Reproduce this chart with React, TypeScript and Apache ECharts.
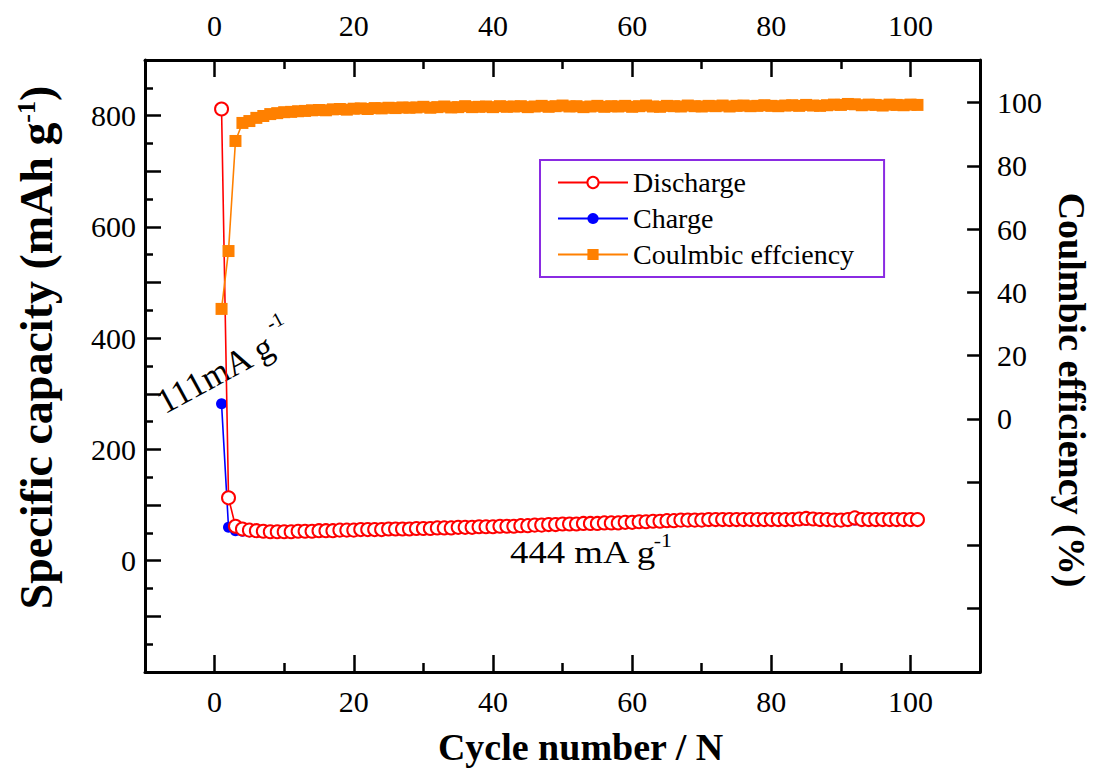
import React, { useEffect, useRef } from 'react';
import * as echarts from 'echarts';

const cycles = [
  1, 2, 3, 4, 5, 6, 7, 8, 9, 10, 11, 12, 13, 14, 15, 16, 17, 18, 19, 20,
  21, 22, 23, 24, 25, 26, 27, 28, 29, 30, 31, 32, 33, 34, 35, 36, 37, 38, 39, 40,
  41, 42, 43, 44, 45, 46, 47, 48, 49, 50, 51, 52, 53, 54, 55, 56, 57, 58, 59, 60,
  61, 62, 63, 64, 65, 66, 67, 68, 69, 70, 71, 72, 73, 74, 75, 76, 77, 78, 79, 80,
  81, 82, 83, 84, 85, 86, 87, 88, 89, 90, 91, 92, 93, 94, 95, 96, 97, 98, 99, 100, 101,
];

const discharge = [
  812, 113, 62, 57, 55, 54, 53, 52, 52, 52, 52, 53, 53, 53, 54, 54, 54, 55, 55, 55,
  56, 56, 56, 56, 57, 57, 57, 57, 58, 58, 58, 59, 59, 59, 60, 60, 60, 61, 61, 61,
  62, 62, 62, 63, 63, 64, 64, 65, 65, 66, 66, 66, 67, 67, 67, 68, 68, 68, 69, 69,
  70, 70, 71, 71, 72, 72, 73, 73, 73, 73, 74, 74, 74, 74, 74, 74, 74, 74, 74, 74,
  74, 74, 74, 75, 76, 75, 74, 74, 73, 73, 74, 77, 74, 74, 74, 74, 74, 74, 74, 74, 74,
];

const charge = [
  282, 60, 54, 53, 52, 51, 51, 50, 50, 50, 50, 51, 51, 51, 52, 52, 52, 53, 53, 53,
  54, 54, 54, 55, 55, 55, 56, 56, 56, 56, 57, 57, 58, 58, 58, 59, 59, 59, 60, 60,
  60, 61, 61, 61, 62, 62, 63, 63, 64, 64, 65, 65, 65, 66, 66, 66, 67, 67, 68, 68,
  68, 69, 69, 70, 70, 71, 71, 72, 72, 72, 72, 73, 73, 73, 73, 73, 73, 73, 73, 73,
  73, 73, 73, 73, 73, 73, 73, 73, 72, 72, 72, 73, 73, 73, 73, 73, 73, 73, 73, 73, 73,
];

const efficiency = [
  34.8, 53.1, 87.9, 93.6, 94.2, 95.2, 95.8, 96.4, 96.7, 97.0, 97.1, 97.3, 97.4, 97.6, 97.7, 97.6, 97.9, 98.0, 97.8, 98.1,
  98.2, 98.0, 98.3, 98.2, 98.4, 98.3, 98.5, 98.4, 98.5, 98.7, 98.4, 98.6, 98.8, 98.5, 98.6, 98.9, 98.6, 98.7, 98.8, 98.6,
  98.9, 98.7, 98.8, 98.9, 98.6, 98.8, 99.0, 98.7, 98.9, 99.1, 98.8, 98.9, 98.6, 98.8, 99.0, 98.7, 98.9, 98.8, 99.0, 98.7,
  98.9, 99.1, 98.8, 98.7, 99.0, 98.9, 98.8, 99.1, 98.9, 98.8, 99.0, 98.9, 99.1, 98.8, 99.0, 99.1, 98.9, 99.0, 99.2, 99.0,
  98.9, 99.1, 99.2, 99.0, 99.3, 99.1, 99.0, 99.2, 99.4, 99.3, 99.6, 99.5, 99.2, 99.4, 99.3, 99.1, 99.4, 99.3, 99.2, 99.4, 99.3,
];

const xTickValues = [0, 20, 40, 60, 80, 100];
const xMinorTickValues = [10, 30, 50, 70, 90];
const leftLabelValues = [0, 200, 400, 600, 800];
const rightLabelValues = [0, 20, 40, 60, 80, 100];

const FONT = 'Liberation Serif';

export default function App() {
  const ref = useRef<HTMLDivElement>(null);

  useEffect(() => {
    document.body.style.margin = '0';
    const chart = echarts.init(ref.current as HTMLDivElement, null, { renderer: 'svg' });
    const pairs = (ys: number[]) => cycles.map((c, i) => [c, ys[i]]);

    const lineBlack = { color: '#000', width: 3 };
    const tickStyle = { color: '#000', width: 2.5 };
    const xBase = { type: 'value', min: -10, max: 110, splitLine: { show: false } };
    const numStyle = { fontSize: 30, color: '#000', fontFamily: FONT };
    const labelStyle = {
      ...numStyle,
      formatter: (v: number) => `{n|${v}}`,
      rich: { n: numStyle },
    };

    const option = {
      animation: false,
      backgroundColor: '#fff',
      textStyle: { fontFamily: FONT, color: '#000' },
      grid: { left: 145, top: 60, width: 848, height: 612 },
      legend: {
        data: ['Discharge', 'Charge', 'Coulmbic effciency'],
        orient: 'vertical',
        left: 540,
        top: 160,
        itemWidth: 70,
        itemHeight: 14,
        itemGap: 7,
        padding: [8, 30, 8, 17],
        borderColor: '#8a2be2',
        borderWidth: 2,
        backgroundColor: '#fff',
        textStyle: { fontSize: 28, color: '#000', fontFamily: FONT, lineHeight: 29 },
      },
      xAxis: [
        {
          ...xBase,
          position: 'bottom',
          name: 'Cycle number / N',
          nameLocation: 'middle',
          nameGap: 56,
          nameTextStyle: { fontSize: 38, fontWeight: 'bold', color: '#000', fontFamily: FONT, padding: [0, 0, 0, 36] },
          axisLine: { onZero: false, lineStyle: lineBlack },
          axisTick: { inside: true, length: 17, lineStyle: tickStyle, customValues: xTickValues },
          axisLabel: { ...labelStyle, customValues: xTickValues, margin: 14 },
        },
        {
          ...xBase,
          position: 'bottom',
          axisLine: { onZero: false, show: false },
          axisTick: { inside: true, length: 9, lineStyle: tickStyle, customValues: xMinorTickValues },
          axisLabel: { show: false },
        },
        {
          ...xBase,
          position: 'top',
          axisLine: { onZero: false, lineStyle: lineBlack },
          axisTick: { inside: true, length: 17, lineStyle: tickStyle, customValues: xTickValues },
          axisLabel: { ...labelStyle, customValues: xTickValues, margin: 20 },
        },
        {
          ...xBase,
          position: 'top',
          axisLine: { onZero: false, show: false },
          axisTick: { inside: true, length: 9, lineStyle: tickStyle, customValues: xMinorTickValues },
          axisLabel: { show: false },
        },
      ],
      yAxis: [
        {
          type: 'value',
          position: 'left',
          min: -200,
          max: 900,
          interval: 100,
          splitLine: { show: false },
          axisLine: { onZero: false, lineStyle: lineBlack },
          axisTick: { inside: true, length: 16, lineStyle: tickStyle },
          minorTick: { show: true, splitNumber: 2, length: 8, lineStyle: tickStyle },
          axisLabel: { ...labelStyle, customValues: leftLabelValues, margin: 9 },
          name: '{a|Specific capacity (mAh g}{b|-1}{a|)}',
          nameLocation: 'middle',
          nameRotate: 90,
          nameGap: 86,
          nameTextStyle: {
            padding: [0, 0, 0, 37],
            rich: {
              a: { fontSize: 46, fontWeight: 'bold', fontFamily: FONT, color: '#000', lineHeight: 46 },
              b: { fontSize: 26, fontWeight: 'bold', fontFamily: FONT, color: '#000', lineHeight: 26, verticalAlign: 'top' },
            },
          },
        },
        {
          type: 'value',
          position: 'right',
          min: -80,
          max: 113.5,
          interval: 20,
          splitLine: { show: false },
          axisLine: { onZero: false, lineStyle: lineBlack },
          axisTick: { inside: true, length: 13, lineStyle: tickStyle },
          axisLabel: { ...labelStyle, customValues: rightLabelValues, margin: 17 },
          name: 'Coulmbic efficiency (%)',
          nameLocation: 'middle',
          nameRotate: -90,
          nameGap: 70,
          nameTextStyle: { fontSize: 38, fontWeight: 'bold', color: '#000', fontFamily: FONT, padding: [0, 0, 0, 48] },
        },
      ],
      series: [
        {
          name: 'Charge',
          type: 'line',
          xAxisIndex: 0,
          yAxisIndex: 0,
          data: pairs(charge),
          symbol: 'circle',
          symbolSize: 11,
          itemStyle: { color: '#0000ff' },
          lineStyle: { color: '#0000ff', width: 1.6 },
          z: 2,
        },
        {
          name: 'Discharge',
          type: 'line',
          xAxisIndex: 0,
          yAxisIndex: 0,
          data: pairs(discharge),
          symbol: 'emptyCircle',
          symbolSize: 13,
          itemStyle: { color: '#ff0000', borderWidth: 1.2 },
          lineStyle: { color: '#ff0000', width: 1.6 },
          z: 3,
        },
        {
          name: 'Coulmbic effciency',
          type: 'line',
          xAxisIndex: 0,
          yAxisIndex: 1,
          data: pairs(efficiency),
          symbol: 'rect',
          symbolSize: 12,
          itemStyle: { color: '#ff8000' },
          lineStyle: { color: '#ff8000', width: 1.6 },
          z: 4,
        },
      ],
      graphic: [
        {
          type: 'group',
          x: 165,
          y: 415,
          rotation: 0.5,
          children: [
            { type: 'text', x: 0, y: -12, style: { text: '111mA g', fontSize: 35, fontFamily: FONT, fill: '#000', verticalAlign: 'middle', align: 'left' } },
            { type: 'text', x: 133, y: -30, style: { text: '-1', fontSize: 20, fontFamily: FONT, fill: '#000', verticalAlign: 'middle', align: 'left' } },
          ],
        },
        {
          type: 'group',
          x: 510,
          y: 563,
          scaleX: 1.15,
          children: [
            { type: 'text', x: 0, y: -11, style: { text: '444 mA g', fontSize: 32, fontFamily: FONT, fill: '#000', verticalAlign: 'middle', align: 'left' } },
            { type: 'text', x: 125, y: -22, style: { text: '-1', fontSize: 19, fontFamily: FONT, fill: '#000', verticalAlign: 'middle', align: 'left' } },
          ],
        },
      ],
    };

    chart.setOption(option as any);
    return () => chart.dispose();
  }, []);

  return <div ref={ref} style={{ width: 1099, height: 771 }} />;
}
